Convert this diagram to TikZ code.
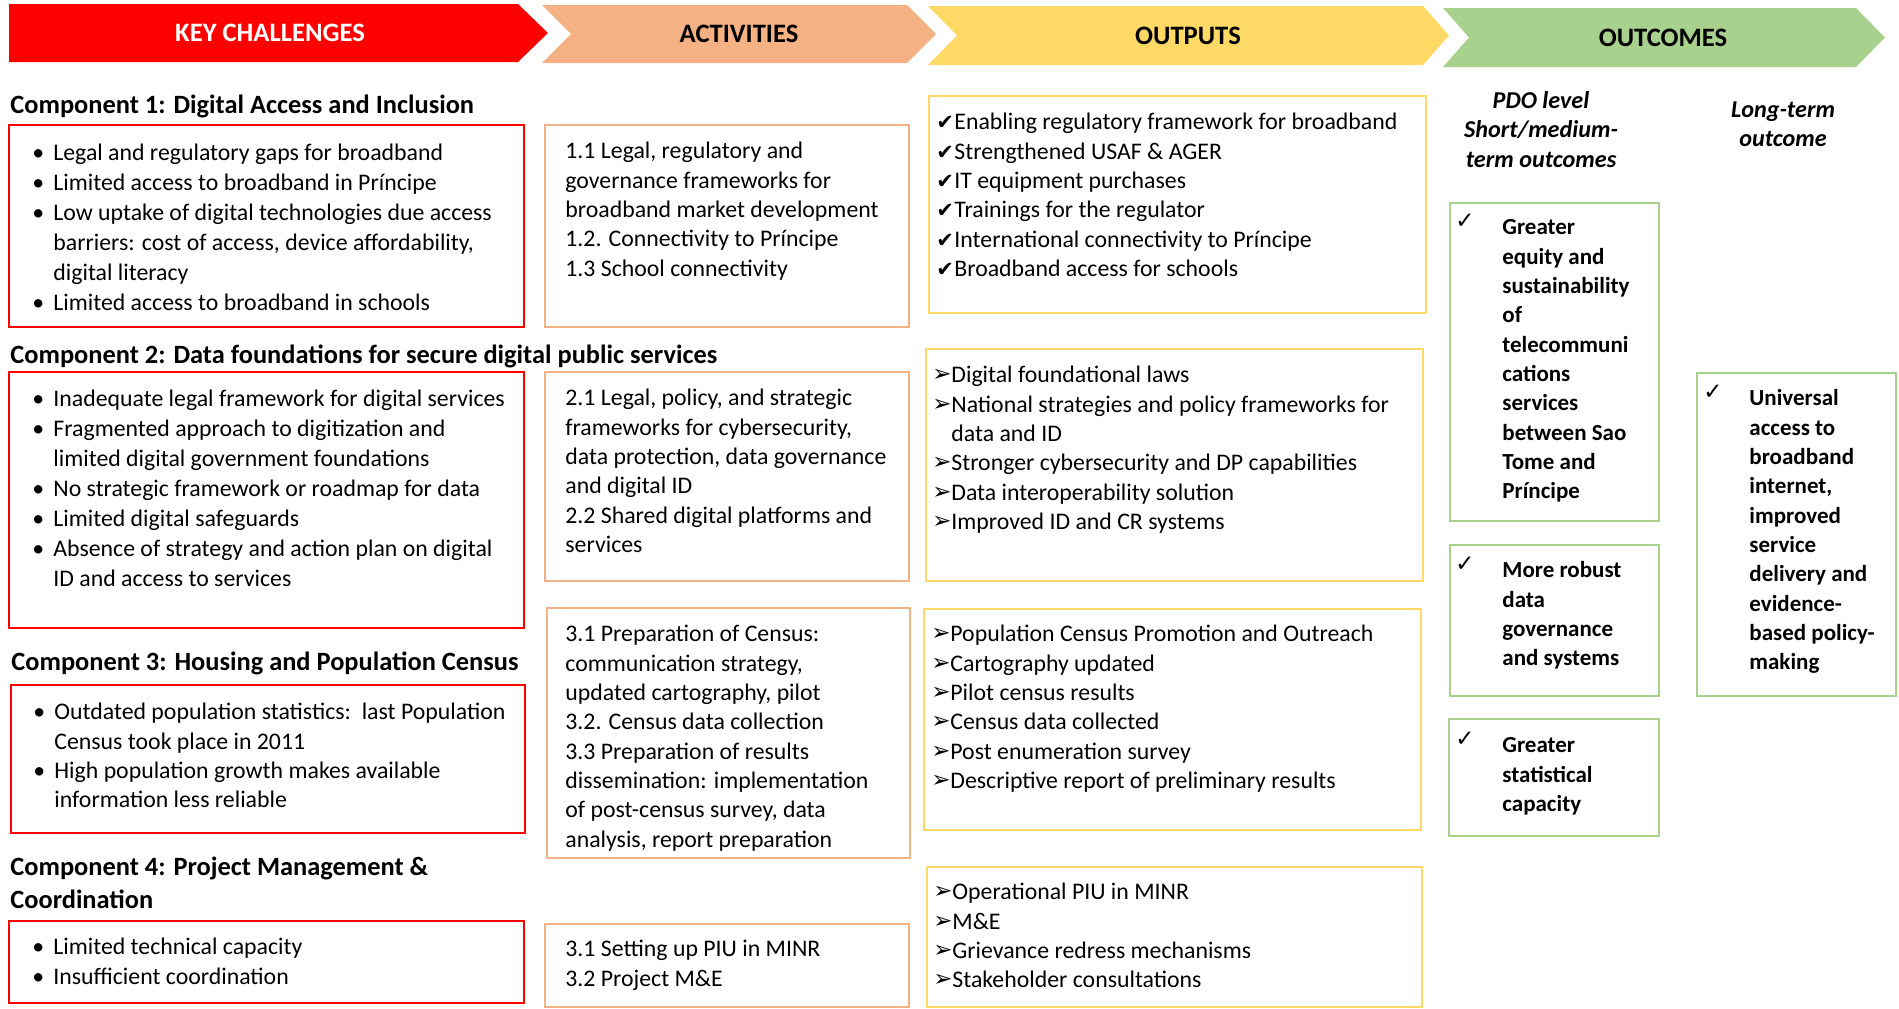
\documentclass[tikz,border=0pt]{standalone}
\usepackage{fontspec}
\setmainfont{Carlito}
\newfontfamily\symfont{DejaVu Sans}

% colours of the four stages
\definecolor{chalred}{HTML}{FF0000}
\definecolor{actpeach}{HTML}{F4B183}
\definecolor{outyellow}{HTML}{FFD966}
\definecolor{ocgreen}{HTML}{A9D18E}

% list markers
\newcommand{\bul}{\makebox[11.5pt][l]{\hspace*{1pt}•}}
\newcommand{\hang}{\hspace*{11.5pt}}
\newcommand{\chk}{\makebox[9pt][l]{\symfont\fontsize{10.5}{10}\selectfont ✔}}
\newcommand{\arr}{\makebox[9.5pt][l]{\symfont\fontsize{11.5}{10}\selectfont\raisebox{0.5pt}{➢}}}

\begin{document}
\begin{tikzpicture}[x=0.5pt,y=-0.5pt,
  stagehead/.style={font=\fontsize{13.3}{15}\selectfont\bfseries, inner sep=0pt},
  comphead/.style={anchor=west, inner sep=0pt, font=\fontsize{13.2}{16.5}\selectfont\bfseries, align=left},
  listtext/.style={anchor=north west, inner sep=0pt, align=left, font=\fontsize{11.9}{14.65}\selectfont},
  widelist/.style={listtext, font=\fontsize{11.9}{15}\selectfont},
  outctext/.style={anchor=north west, inner sep=0pt, align=left, font=\fontsize{11.5}{14.65}\selectfont\bfseries},
  levellabel/.style={anchor=north, inner sep=0pt, align=center, font=\fontsize{12.1}{14.75}\selectfont\bfseries\itshape},
  chalbox/.style={draw=chalred, line width=1.1pt},
  actbox/.style={draw=actpeach, line width=1.1pt},
  outbox/.style={draw=outyellow, line width=1.1pt},
  ocbox/.style={draw=ocgreen, line width=1.1pt},
  okmark/.style={anchor=north west, inner sep=0pt, font=\symfont\fontsize{11.5}{12}\selectfont}
]
\useasboundingbox (0,0) rectangle (1899,1008);
\fill[white] (0,0) rectangle (1899,1008);

% ---- stage banners ----
\fill[chalred] (9,4) -- (518,4) -- (548,33) -- (518,62) -- (9,62) -- cycle;
\fill[actpeach] (542,5) -- (907,5) -- (936,34) -- (907,63) -- (542,63) -- (571,34) -- cycle;
\fill[outyellow] (928,6) -- (1423,6) -- (1449,35.5) -- (1423,65) -- (928,65) -- (957,35.5) -- cycle;
\fill[ocgreen] (1443,8) -- (1856,8) -- (1885,37.5) -- (1856,67) -- (1443,67) -- (1469,37.5) -- cycle;
\node[stagehead, text=white] (hchal) at (270,33) {KEY CHALLENGES};
\node[stagehead] (hact) at (739,34) {ACTIVITIES};
\node[stagehead] (hout) at (1188,36) {OUTPUTS};
\node[stagehead] (hoc) at (1663,38) {OUTCOMES};

% ---- component headings ----
\node[comphead] (comp1) at (10,106) {Component 1: Digital Access and Inclusion};
\node[comphead] (comp2) at (10,356) {Component 2: Data foundations for secure digital public services};
\node[comphead] (comp3) at (11,663) {Component 3: Housing and Population Census};
\node[comphead, anchor=north west] (comp4) at (10,852) {\strut Component 4: Project Management \&\\ Coordination};

% ---- key challenges ----
\draw[chalbox] (9,125) rectangle (524,327);
\node[widelist] (c1) at (30,139) {\strut\bul Legal and regulatory gaps for broadband\\
\bul Limited access to broadband in Príncipe\\
\bul Low uptake of digital technologies due access\\
\hang barriers: cost of access, device affordability,\\
\hang digital literacy\\
\bul Limited access to broadband in schools};

\draw[chalbox] (9,372) rectangle (524,628);
\node[widelist] (c2) at (30,385) {\strut\bul Inadequate legal framework for digital services\\
\bul Fragmented approach to digitization and\\
\hang limited digital government foundations\\
\bul No strategic framework or roadmap for data\\
\bul Limited digital safeguards\\
\bul Absence of strategy and action plan on digital\\
\hang ID and access to services};

\draw[chalbox] (11,685) rectangle (525,833);
\node[listtext] (c3) at (31,699) {\strut\bul Outdated population statistics:\ \ last Population\\
\hang Census took place in 2011\\
\bul High population growth makes available\\
\hang information less reliable};

\draw[chalbox] (9,921) rectangle (524,1003);
\node[widelist] (c4) at (30,933) {\strut\bul Limited technical capacity\\
\bul Insufficient coordination};

% ---- activities ----
\draw[actbox] (545,125) rectangle (909,327);
\node[listtext] (a1) at (565,138) {\strut 1.1 Legal, regulatory and\\
governance frameworks for\\
broadband market development\\
1.2. Connectivity to Príncipe\\
1.3 School connectivity};

\draw[actbox] (545,372) rectangle (909,581);
\node[listtext] (a2) at (565,385) {\strut 2.1 Legal, policy, and strategic\\
frameworks for cybersecurity,\\
data protection, data governance\\
and digital ID\\
2.2 Shared digital platforms and\\
services};

\draw[actbox] (547,608) rectangle (910,858);
\node[listtext] (a3) at (565,621) {\strut 3.1 Preparation of Census:\\
communication strategy,\\
updated cartography, pilot\\
3.2. Census data collection\\
3.3 Preparation of results\\
dissemination: implementation\\
of post-census survey, data\\
analysis, report preparation};

\draw[actbox] (545,924) rectangle (909,1007);
\node[listtext] (a4) at (565,936) {\strut 3.1 Setting up PIU in MINR\\
3.2 Project M\&E};

% ---- outputs ----
\draw[outbox] (929,96) rectangle (1426,313);
\node[listtext] (o1) at (936,109) {\strut\chk Enabling regulatory framework for broadband\\
\chk Strengthened USAF \& AGER\\
\chk IT equipment purchases\\
\chk Trainings for the regulator\\
\chk International connectivity to Príncipe\\
\chk Broadband access for schools};

\draw[outbox] (926,349) rectangle (1423,581);
\node[listtext] (o2) at (932,362) {\strut\arr Digital foundational laws\\
\arr National strategies and policy frameworks for\\
\hspace*{9.5pt}data and ID\\
\arr Stronger cybersecurity and DP capabilities\\
\arr Data interoperability solution\\
\arr Improved ID and CR systems};

\draw[outbox] (924,609) rectangle (1421,830);
\node[listtext] (o3) at (931,621) {\strut\arr Population Census Promotion and Outreach\\
\arr Cartography updated\\
\arr Pilot census results\\
\arr Census data collected\\
\arr Post enumeration survey\\
\arr Descriptive report of preliminary results};

\draw[outbox] (927,867) rectangle (1422,1007);
\node[listtext] (o4) at (933,879) {\strut\arr Operational PIU in MINR\\
\arr M\&E\\
\arr Grievance redress mechanisms\\
\arr Stakeholder consultations};

% ---- outcomes ----
\node[levellabel] (pdo) at (1541,87) {\strut PDO level\\ Short/medium-\\ term outcomes};
\node[levellabel] (lt) at (1783,96) {\strut Long-term\\ outcome};

\draw[ocbox] (1450,203) rectangle (1659,521);
\node[okmark] (g1m) at (1455,214) {✓};
\node[outctext] (g1) at (1502,214) {\strut Greater\\ equity and\\ sustainability\\ of\\ telecommuni\\ cations\\ services\\ between Sao\\ Tome and\\ Príncipe};

\draw[ocbox] (1450,545) rectangle (1659,696);
\node[okmark] (g2m) at (1455,557) {✓};
\node[outctext] (g2) at (1502,557) {\strut More robust\\ data\\ governance\\ and systems};

\draw[ocbox] (1449,719) rectangle (1659,836);
\node[okmark] (g3m) at (1455,732) {✓};
\node[outctext] (g3) at (1502,732) {\strut Greater\\ statistical\\ capacity};

\draw[ocbox] (1697,373) rectangle (1896,696);
\node[okmark] (g4m) at (1703,385) {✓};
\node[outctext] (g4) at (1749,385) {\strut Universal\\ access to\\ broadband\\ internet,\\ improved\\ service\\ delivery and\\ evidence-\\ based policy-\\ making};
\end{tikzpicture}
\end{document}
